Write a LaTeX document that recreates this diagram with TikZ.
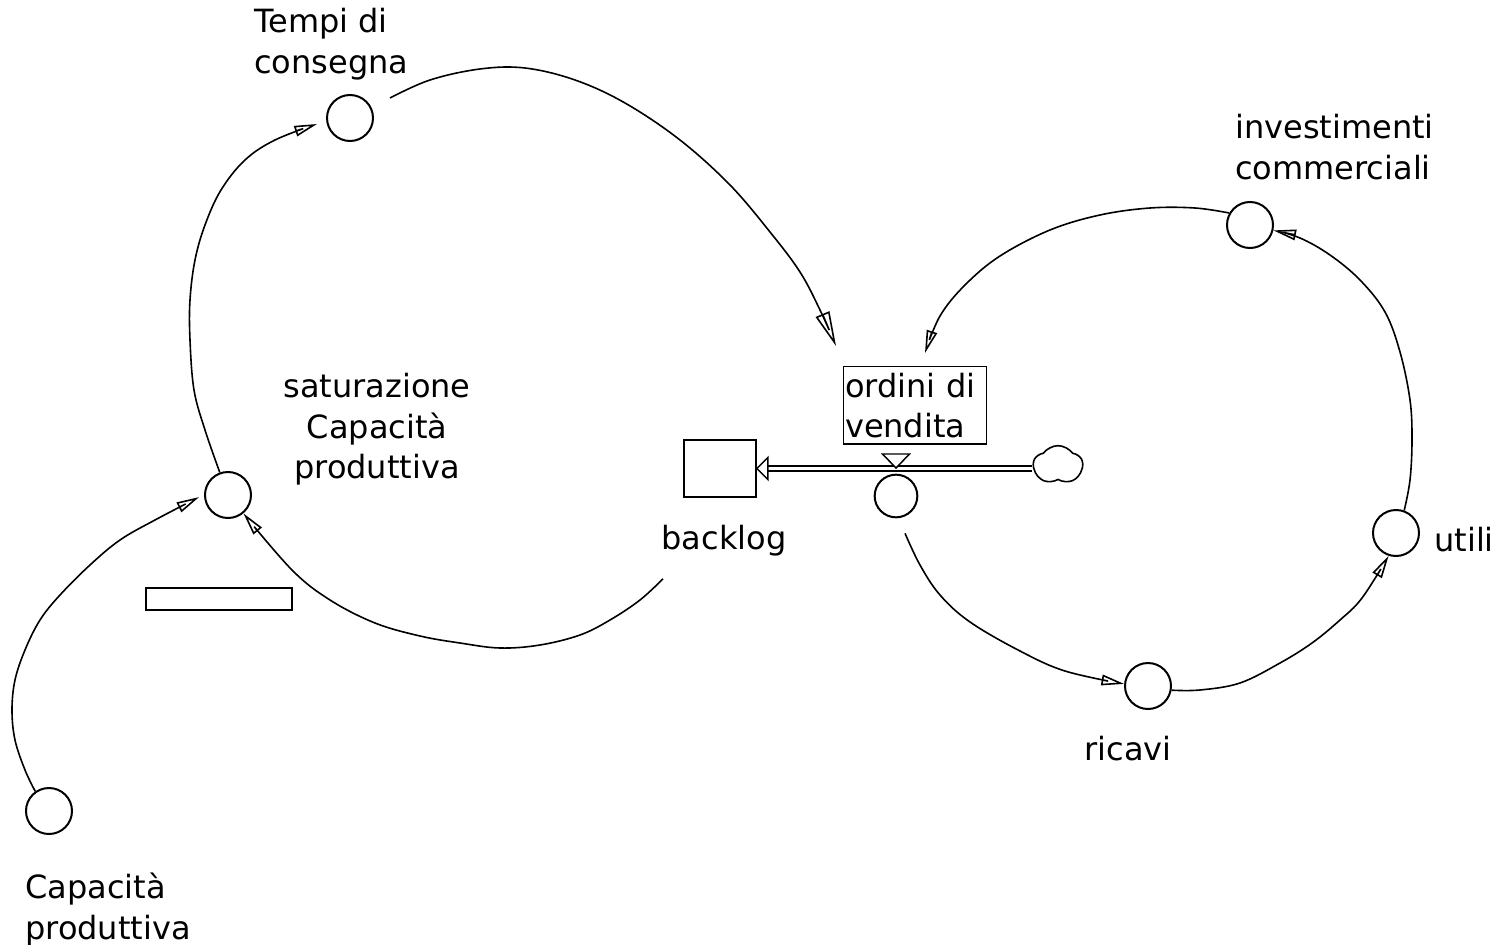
\documentclass[tikz,border=0pt]{standalone}
\usepackage{fontspec}
\setmainfont{DejaVu Sans}
\usetikzlibrary{arrows.meta,shapes.symbols}

\begin{document}
\begin{tikzpicture}[x=0.75pt,y=-0.75pt,
  lbl/.style={font=\fontsize{24}{30.5}\selectfont, inner sep=0pt},
  aux/.style={circle, draw, line width=1.5pt, minimum size=34.5pt, inner sep=0pt},
  stock/.style={draw, line width=1.2pt, minimum width=54pt, minimum height=42.75pt, inner sep=0pt},
  link/.style={line width=1.2pt,
    -{Triangle[open, length=17pt, width=8pt, line width=1.2pt]}},
  biglink/.style={line width=1.2pt,
    -{Triangle[open, length=26pt, width=11pt, line width=1.2pt]}},
  curve/.style={smooth, tension=0.6}]
\useasboundingbox (0,0) rectangle (1499,945);

% auxiliaries
\node[aux] (tc)  at (350,118)  {};
\node[aux] (sat) at (228,495)  {};
\node[aux] (cap) at (49,811)   {};
\node[aux] (inv) at (1250,225) {};
\node[aux] (utl) at (1396,533) {};
\node[aux] (ric) at (1148,686) {};

% labels
\node[lbl, anchor=north west, align=left]   (tcl)  at (254,8)    {Tempi di\\consegna};
\node[lbl, anchor=north, align=center]      (satl) at (377,373)  {saturazione\\Capacità\\produttiva};
\node[lbl, anchor=north west, align=left]   (capl) at (25,873)   {Capacità\\produttiva};
\node[lbl, anchor=north west, align=left]   (invl) at (1235,114) {investimenti\\commerciali};
\node[lbl, anchor=base west]                (utll) at (1434,551) {utili};
\node[lbl, anchor=base]                     (ricl) at (1128,760) {ricavi};

% stock, flow and source
\node[stock] (backlog) at (720,468.5) {};
\node[lbl, anchor=base] (backlogl) at (724,549) {backlog};
\node[cloud, cloud puffs=5, cloud puff arc=110, aspect=1.25, draw, line width=1.2pt,
      minimum width=37pt, minimum height=29pt, inner sep=0pt] (src) at (1058,465) {};
\draw[line width=1.1pt, double, double distance=2.6pt]
  (src.west |- 0,468.5) -- ([shift={(11,0)}]backlog.east);
\draw[line width=1.1pt, fill=white] (backlog.east) -- ++(11,-11) -- ++(0,22) -- cycle;

% rate
\node[aux, minimum size=32pt] (ov) at (896,496) {};
\draw[line width=1.1pt, fill=white] (896,468) -- ++(-13.5,-14) -- ++(27,0) -- cycle;
\node[lbl, draw, line width=1.1pt, anchor=north west, align=left,
      text width=105pt, inner xsep=1pt, inner ysep=4.5pt, minimum height=57pt]
      (ovl) at (843,366) {ordini di\\vendita};

% empty box
\node[draw, line width=1.1pt, minimum width=109.5pt, minimum height=16.5pt, inner sep=0pt]
  (box) at (219,599) {};

% causal links
\draw[link] plot[curve] coordinates {(sat.110) (205,430) (194,390) (190,340) (190,300)
  (195,260) (205,225) (221,190) (245,160) (275,140) ([shift={(-9,6)}]tc.west)};

\draw[biglink] plot[curve] coordinates {([shift={(40,-20)}]tc.center) (430,80) (480,69)
  (525,68) (575,80) (625,103) (680,140) (730,185) (770,232) (800,272) (820,310)
  ([shift={(-7,-20)}]ovl.north west)};

\draw[link] plot[curve] coordinates {([shift={(-57,81)}]backlog.south) (640,600) (610,620)
  (580,635) (540,645) (500,648) (460,643) (420,636) (375,623) (330,600) (292,570)
  (sat.-50)};

\draw[link] plot[curve] coordinates {(cap.125) (25,770) (15,740) (12,710) (15,680)
  (25,650) (40,620) (60,595) (90,565) (120,540) (155,520) ([shift={(-5,0)}]sat.185)};

\draw[link] plot[curve] coordinates {([shift={(9,15)}]ov.south) (920,565) (940,595)
  (970,622) (1020,651) (1065,671) (ric.175)};

\draw[link] plot[curve] coordinates {(ric.-10) (1200,690) (1240,683) (1280,663)
  (1312,643) (1340,620) (1362,598) (utl.-108)};

\draw[link] plot[curve] coordinates {(utl.70) (1410,480) (1412,440) (1410,400)
  (1400,352) (1385,312) (1360,280) (1330,255) (1300,238) (inv.-13)};

\draw[link] plot[curve] coordinates {(inv.150) (1195,208) (1150,208) (1100,215)
  (1050,230) (1000,256) (965,285) (940,316) ([shift={(82,-13)}]ovl.north west)};
\end{tikzpicture}
\end{document}
